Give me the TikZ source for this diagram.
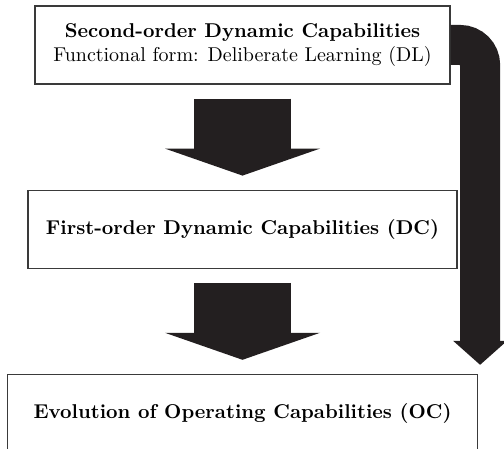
\documentclass[tikz,border=0pt]{standalone}
\usetikzlibrary{arrows.meta,positioning}
\definecolor{ink}{HTML}{231F20}
\definecolor{frame}{HTML}{3A3A3A}
\tikzset{
  >=Latex,
  capbox/.style={draw=frame,line width=0.6pt,fill=white,align=center,inner sep=4pt,minimum height=39pt},
  blockarr/.style={-{Triangle[width=77.5pt,length=13.5pt,line width=0pt]},line width=48.5pt,draw=ink,shorten <=7pt,shorten >=7pt},
  bendarr/.style={-{Triangle[width=27pt,length=12pt,line width=0pt]},line width=20pt,draw=ink,rounded corners=10pt},
}

\begin{document}
\begin{tikzpicture}[x=0.5pt,y=-0.5pt,node distance=52.5pt]
\useasboundingbox (0,0) rectangle (504,449);
\node[capbox,minimum width=207.5pt] (second) at (242.5,45) {\textbf{Second-order Dynamic Capabilities}\\Functional form: Deliberate Learning (DL)};
\node[capbox,minimum width=214.5pt,below=of second] (first) {\textbf{First-order Dynamic Capabilities (DC)}};
\node[capbox,minimum width=235pt,below=of first] (oper) {\textbf{Evolution of Operating Capabilities (OC)}};
\draw[blockarr] (second) -- (first);
\draw[blockarr] (first) -- (oper);
\draw[bendarr] (second.east) -| ([xshift=1pt,yshift=4.5pt]oper.north east);
\end{tikzpicture}
\end{document}
